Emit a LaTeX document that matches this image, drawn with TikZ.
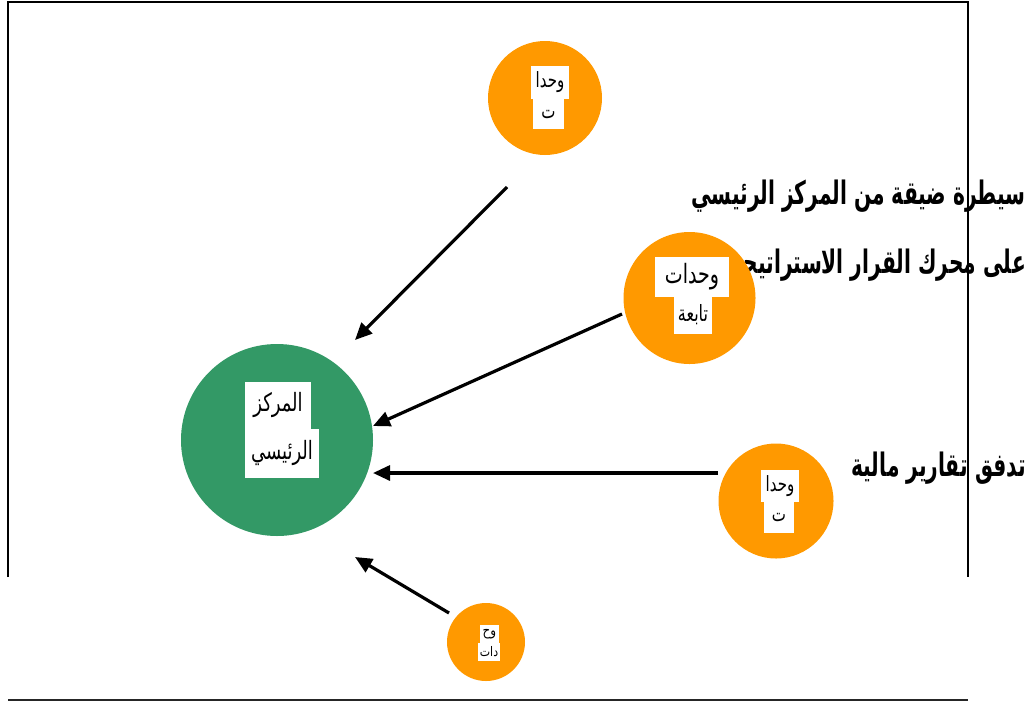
\documentclass[tikz,border=0pt]{standalone}
\usepackage{fontspec}
\usepackage{graphicx}
\newfontfamily\arabicfont[Script=Arabic]{DejaVu Sans}
\TeXXeTstate=1
\usetikzlibrary{arrows.meta}
\definecolor{orng}{HTML}{FF9900}
\definecolor{grn}{HTML}{339966}
\newcommand{\artxt}[2][1.4]{\scalebox{1}[#1]{\beginR #2\endR}}
\tikzset{
  unit/.style={circle, fill=orng, draw=none, inner sep=0pt},
  hub/.style={circle, fill=grn, draw=none, inner sep=0pt},
  lbl/.style={fill=white, inner sep=0pt, font=\arabicfont\fontsize{15}{17}\selectfont},
  note/.style={anchor=east, inner sep=0pt, font=\arabicfont\bfseries\fontsize{20.2}{24}\selectfont},
  frame/.style={line width=2pt, draw=black},
  flow/.style={line width=3.2pt, -{Triangle[length=17pt,width=15pt]}},
}
\begin{document}
\begin{tikzpicture}[x=1pt,y=-1pt]
\useasboundingbox (0,0) rectangle (1032,702);
% texts
\node[note] (t1) at (1026,196) {\artxt[1.6]{سيطرة ضيقة من المركز الرئيسي}};
\node[note] (t2) at (1026,265) {\artxt[1.6]{على محرك القرار الاستراتيجي}};
\node[note] (t3) at (1026,468) {\artxt[1.6]{تدفق تقارير مالية}};
% frame
\draw[frame] (8,577) -- (8,1.5) -- (968,1.5) -- (968,577);
\draw[line width=2.2pt, draw=black!85] (8,700) -- (968,700);
% circles
\node[unit, minimum size=114pt] (u1) at (545,98) {};
\node[unit, minimum size=132pt] (u2) at (689.5,298) {};
\node[hub, minimum size=192pt] (hq) at (277,440) {};
\node[unit, minimum size=115pt] (u3) at (776,501) {};
\node[unit, minimum size=78pt] (u4) at (486,642) {};
% labels
\node[lbl, minimum width=38pt, minimum height=33pt] (u1a) at (550,82.5) {\artxt{وحدا}};
\node[lbl, minimum width=31pt, minimum height=30pt] (u1b) at (548.5,114) {\artxt{ت}};
\node[lbl, minimum width=74pt, minimum height=40pt, font=\arabicfont\fontsize{19}{21}\selectfont] (u2a) at (692,276.7) {\artxt{وحدات}};
\node[lbl, minimum width=38pt, minimum height=37pt, font=\arabicfont\fontsize{16}{18}\selectfont] (u2b) at (693,315) {\artxt{تابعة}};
\node[lbl, minimum width=66pt, minimum height=47pt, font=\arabicfont\fontsize{18}{20}\selectfont] (hqa) at (278,405.3) {\artxt{المركز}};
\node[lbl, minimum width=74pt, minimum height=49pt, font=\arabicfont\fontsize{18}{20}\selectfont] (hqb) at (282,453.3) {\artxt{الرئيسي}};
\node[lbl, minimum width=38pt, minimum height=32pt] (u3a) at (780,485.8) {\artxt{وحدا}};
\node[lbl, minimum width=30pt, minimum height=31pt] (u3b) at (779,517) {\artxt{ت}};
\node[lbl, minimum width=19pt, minimum height=18pt, font=\arabicfont\fontsize{12}{14}\selectfont] (u4a) at (489.5,634) {\artxt[1.2]{وح}};
\node[lbl, minimum width=22pt, minimum height=18pt, font=\arabicfont\fontsize{11}{13}\selectfont] (u4b) at (489,652) {\artxt[1.2]{دات}};
% arrow ends
\coordinate (s1) at (507,187); \coordinate (e1) at (355,340);
\coordinate (s2) at (622,314); \coordinate (e2) at (373,426);
\coordinate (s3) at (718,473); \coordinate (e3) at (373,473);
\coordinate (s4) at (449,613); \coordinate (e4) at (355,557);
\draw[flow] (s1) -- (e1);
\draw[flow] (s2) -- (e2);
\draw[flow] (s3) -- (e3);
\draw[flow] (s4) -- (e4);
\end{tikzpicture}
\end{document}
